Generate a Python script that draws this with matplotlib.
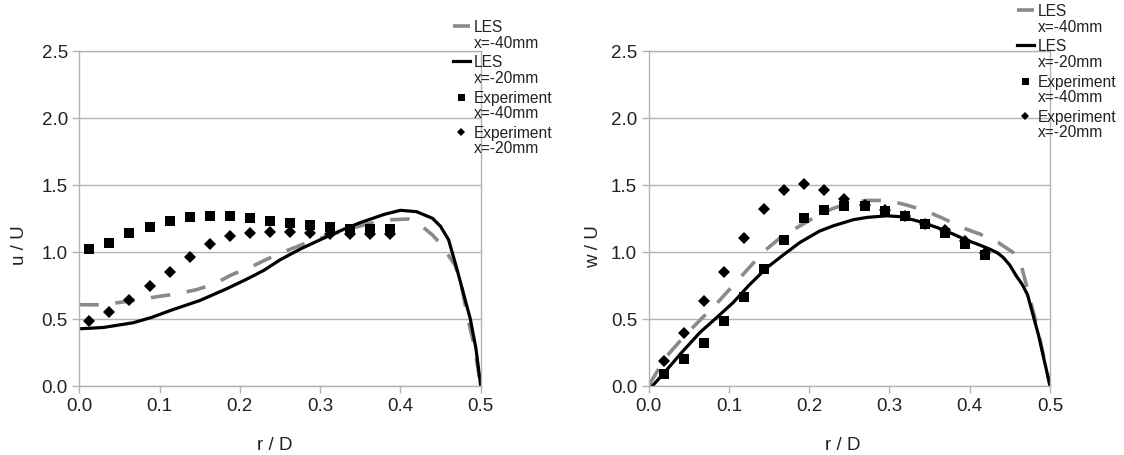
import matplotlib.pyplot as plt
from matplotlib.legend_handler import HandlerLine2D

plt.rcParams['font.family'] = ['Liberation Sans', 'DejaVu Sans']
plt.rcParams['lines.scale_dashes'] = False

# ---- left panel: u / U ----
les40_u_r = [0, 0.025, 0.048, 0.067, 0.096, 0.121, 0.146, 0.169, 0.19, 0.213, 0.235, 0.259,
             0.28, 0.30, 0.33, 0.36, 0.39, 0.41, 0.425, 0.44, 0.45, 0.457, 0.468, 0.476,
             0.484, 0.492, 0.5]
les40_u = [0.605, 0.604, 0.62, 0.636, 0.664, 0.686, 0.717, 0.763, 0.829, 0.885, 0.948, 1.01,
           1.06, 1.10, 1.16, 1.21, 1.24, 1.245, 1.20, 1.125, 1.06, 1.0, 0.9, 0.75,
           0.5, 0.3, 0.0]
les20_u_r = [0, 0.03, 0.067, 0.09, 0.115, 0.15, 0.185, 0.21, 0.23, 0.25, 0.275, 0.30, 0.33,
             0.35, 0.38, 0.40, 0.42, 0.44, 0.45, 0.46, 0.47, 0.478, 0.487, 0.494, 0.5]
les20_u = [0.425, 0.435, 0.47, 0.51, 0.565, 0.636, 0.728, 0.80, 0.862, 0.94, 1.02, 1.09, 1.17,
           1.218, 1.28, 1.31, 1.30, 1.25, 1.19, 1.09, 0.88, 0.70, 0.5, 0.28, 0.0]
exp_u_r = [0.0125, 0.0375, 0.0625, 0.0875, 0.1125, 0.1375, 0.1625, 0.1875, 0.2125, 0.2375,
           0.2625, 0.2875, 0.3125, 0.3375, 0.3625, 0.3875]
exp40_u = [1.02, 1.066, 1.14, 1.184, 1.229, 1.259, 1.271, 1.271, 1.25, 1.233, 1.219, 1.198,
           1.183, 1.17, 1.168, 1.168]
exp20_u = [0.487, 0.55, 0.637, 0.744, 0.848, 0.958, 1.055, 1.12, 1.144, 1.149, 1.149, 1.143,
           1.136, 1.136, 1.136, 1.136]

# ---- right panel: w / U ----
les40_w_r = [0, 0.01, 0.0225, 0.043, 0.064, 0.085, 0.1055, 0.125, 0.143, 0.165, 0.1885, 0.21,
             0.23, 0.251, 0.272, 0.2985, 0.321, 0.3455, 0.367, 0.39, 0.413, 0.4355, 0.454,
             0.465, 0.472, 0.4856, 0.5]
les40_w = [0.0, 0.1, 0.22, 0.36, 0.49, 0.615, 0.75, 0.88, 1.0, 1.11, 1.194, 1.27,
           1.325, 1.365, 1.384, 1.383, 1.35, 1.306, 1.249, 1.182, 1.132, 1.07, 0.995,
           0.88, 0.72, 0.40, 0.0]
les20_w_r = [0.005, 0.02, 0.04, 0.064, 0.085, 0.1055, 0.125, 0.147, 0.1685, 0.1885, 0.213,
             0.23, 0.255, 0.272, 0.2965, 0.315, 0.338, 0.36, 0.3795, 0.395, 0.4127, 0.425,
             0.435, 0.4417, 0.45, 0.458, 0.465, 0.472, 0.4856, 0.5]
les20_w = [0.0, 0.1, 0.24, 0.398, 0.51, 0.622, 0.75, 0.88, 0.98, 1.07, 1.155,
           1.194, 1.24, 1.257, 1.269, 1.262, 1.225, 1.18, 1.132, 1.09, 1.05, 1.02,
           0.99, 0.958, 0.90, 0.82, 0.76, 0.68, 0.38, 0.0]
exp_w_r = [0.019, 0.044, 0.069, 0.094, 0.119, 0.144, 0.169, 0.194, 0.219, 0.244, 0.269,
           0.294, 0.319, 0.344, 0.369, 0.394, 0.419]
exp40_w = [0.09, 0.2, 0.318, 0.48, 0.66, 0.871, 1.09, 1.249, 1.31, 1.345, 1.342, 1.306,
           1.266, 1.208, 1.143, 1.06, 0.974]
exp20_w = [0.184, 0.39, 0.631, 0.85, 1.103, 1.317, 1.464, 1.508, 1.464, 1.397, 1.35, 1.31,
           1.27, 1.21, 1.16, 1.08, 0.99]

labels = ['LES\nx=-40mm', 'LES\nx=-20mm', 'Experiment\nx=-40mm', 'Experiment\nx=-20mm']
ticks_r = [0.0, 0.1, 0.2, 0.3, 0.4, 0.5]
ticks_v = [0.0, 0.5, 1.0, 1.5, 2.0, 2.5]

GRID = '#b3b3b3'
GRAY = '#8a8a8a'
TXT = '#222222'


class FirstLineHandler(HandlerLine2D):
    # legend key sits beside the first line of the two-line label
    def create_artists(self, legend, orig_handle, xdescent, ydescent, width, height,
                       fontsize, trans):
        return super().create_artists(legend, orig_handle, xdescent, ydescent - 12.5,
                                      width, height, fontsize, trans)


def panel(ax, data):
    r40, v40, r20, v20, re, e40, e20 = data
    ax.plot(r40, v40, color=GRAY, lw=2.6, dashes=(14, 12), label=labels[0])
    ax.plot(r20, v20, color='black', lw=2.3, label=labels[1])
    ax.plot(re, e40, ls='none', marker='s', ms=7.2, mew=0, color='black', label=labels[2])
    ax.plot(re, e20, ls='none', marker='D', ms=5.8, mew=0, color='black', label=labels[3])
    ax.set_xlim(0, 0.5)
    ax.set_ylim(0, 2.5)
    ax.set_xticks(ticks_r)
    ax.set_yticks(ticks_v)
    ax.xaxis.set_major_formatter('{x:.1f}')
    ax.yaxis.set_major_formatter('{x:.1f}')
    ax.grid(axis='y', color=GRID, lw=1.0)
    ax.set_axisbelow(True)
    for s in ax.spines.values():
        s.set_color(GRID)
        s.set_linewidth(1.0)
    ax.tick_params(color=GRID, labelcolor=TXT, length=5, width=1.0, labelsize=13.5, pad=3.2)


fig = plt.figure(figsize=(11.24, 4.56), dpi=100)
W, H = 1124, 456
ax1 = fig.add_axes([79.3 / W, 69.3 / H, 401.4 / W, 334.7 / H])
ax2 = fig.add_axes([648.6 / W, 69.3 / H, 401.4 / W, 334.7 / H])

panel(ax1, (les40_u_r, les40_u, les20_u_r, les20_u, exp_u_r, exp40_u, exp20_u))
panel(ax2, (les40_w_r, les40_w, les20_w_r, les20_w, exp_w_r, exp40_w, exp20_w))

fig.text(19.6 / W, 1 - 245 / H, 'u / U', rotation=90, ha='center', va='center',
         fontsize=13.5, color=TXT)
fig.text(594 / W, 1 - 247 / H, 'w / U', rotation=90, ha='center', va='center',
         fontsize=13.5, color=TXT)
fig.text(275 / W, 1 - 446 / H, 'r / D', ha='center', va='center', fontsize=13.5, color=TXT)
fig.text(843 / W, 1 - 446 / H, 'r / D', ha='center', va='center', fontsize=13.5, color=TXT)

for ax, (lx, ly) in ((ax1, (452.7, 20)), (ax2, (1016.7, 4))):
    h, l = ax.get_legend_handles_labels()
    leg = fig.legend(h, l, loc='upper left', bbox_to_anchor=(lx / W, 1 - ly / H),
                     frameon=False, fontsize=11.2, borderpad=0, borderaxespad=0,
                     handlelength=1.1, handletextpad=0.25, labelspacing=0.3,
                     markerscale=0.7, handler_map={type(h[0]): FirstLineHandler()})
    for t in leg.get_texts():
        t.set_color(TXT)
        t.set_linespacing(1.05)

fig.savefig('out.png', dpi=100)
